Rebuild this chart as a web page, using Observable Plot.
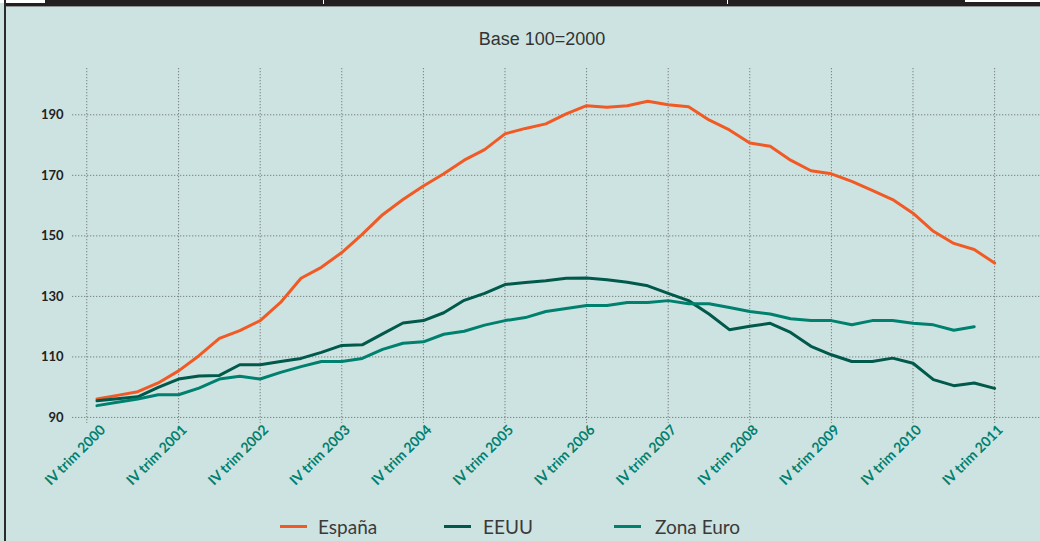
<!DOCTYPE html>
<html>
<head>
<meta charset="utf-8">
<script src="https://cdn.jsdelivr.net/npm/d3@7"></script>
<script src="https://cdn.jsdelivr.net/npm/@observablehq/plot@0.6"></script>
<style>
  html, body { margin: 0; padding: 0; background: #cde3e1; }
  #wrap { position: relative; width: 1040px; height: 541px; background: #cde3e1; overflow: hidden; font-family: Lato, "Noto Sans", sans-serif; }
  .band { position: absolute; }
  #title { position: absolute; top: 30px; left: 442px; width: 200px; text-align: center; font-family: "Liberation Sans", Arial, sans-serif; font-size: 18px; line-height: 18px; color: #333; white-space: nowrap; }
  #chart { position: absolute; top: 55px; left: 0; }
  .leg { position: absolute; top: 515px; height: 22px; display: flex; align-items: center; font-family: Lato, sans-serif; font-size: 19px; color: #3a3a3a; white-space: nowrap; }
  .sw { display: inline-block; width: 27px; height: 3px; margin-right: 11px; }
</style>
</head>
<body>
<div id="wrap">
  <div class="band" style="left:4px;top:0;width:1036px;height:6px;background:#231f20"></div>
  <div class="band" style="left:6px;top:6px;width:1034px;height:1px;background:#8f9493"></div>
  <div class="band" style="left:0;top:0;width:45px;height:3px;background:#ffffff"></div>
  <div class="band" style="left:965px;top:0;width:75px;height:2px;background:#ffffff"></div>
  <div class="band" style="left:323px;top:0;width:1px;height:4px;background:#ffffff"></div>
  <div class="band" style="left:727px;top:0;width:1px;height:4px;background:#ffffff"></div>
  <div class="band" style="left:4px;top:0;width:2px;height:541px;background:#2b2b2b"></div>
  <div id="title"></div>
  <div id="chart"></div>
  <div id="legend"></div>
</div>
<script>
const titleText = "Base 100=2000";

// Quarterly index, IV trim 2000 (0) ... IV trim 2011 (44)
const xTickLabels = ["IV trim 2000","IV trim 2001","IV trim 2002","IV trim 2003","IV trim 2004","IV trim 2005",
                     "IV trim 2006","IV trim 2007","IV trim 2008","IV trim 2009","IV trim 2010","IV trim 2011"];
const xTickIdx = [0,4,8,12,16,20,24,28,32,36,40,44];
const xGrid = [-0.5,4,8,12,16,20,24,28,32,36,40,44];
const yTicks = [90,110,130,150,170,190];

const seriesNames = ["España","EEUU","Zona Euro"];
const seriesColors = ["#f15a24","#00594a","#00806f"];

const espana = [96.1,97.3,98.5,101.4,105.4,110.4,116.1,118.7,122,128,136,139.6,144.5,150.5,157,162,166.5,170.5,175,178.5,
                183.7,185.5,187,190.3,193,192.5,193,194.5,193.3,192.7,188.3,185,180.7,179.6,175,171.5,170.5,168,165,162,
                157.5,151.5,147.5,145.5,141];
const eeuu = [95.5,96.2,96.8,99.9,102.7,103.7,103.9,107.4,107.4,108.5,109.5,111.5,113.8,114,117.6,121.2,122,124.6,128.7,131,
              133.9,134.6,135.2,136,136.1,135.5,134.7,133.5,131,128.6,124.2,119,120.1,121.1,118.1,113.5,110.7,108.5,108.5,109.6,
              107.9,102.5,100.5,101.4,99.6];
const zonaEuro = [93.9,95,96.1,97.5,97.5,99.7,102.7,103.6,102.7,104.9,106.8,108.5,108.5,109.5,112.5,114.5,115,117.5,118.5,120.5,
                  122,123,125,126,127,127,128,128,128.6,127.6,127.6,126.3,125,124.2,122.6,122,122,120.6,122,122,
                  121.1,120.6,118.8,120];

const allSeries = [espana, eeuu, zonaEuro];
const rows = [];
allSeries.forEach((vals, s) => vals.forEach((v, i) => rows.push({serie: seriesNames[s], i, v})));

document.getElementById("title").textContent = titleText;

const gridStyle = {stroke: "#77827f", strokeWidth: 1, strokeDasharray: "1.3,1.7"};

const chart = Plot.plot({
  width: 1040,
  height: 440,
  marginLeft: 72,
  marginRight: 0,
  marginTop: 13,
  marginBottom: 72,
  style: {background: "transparent", fontFamily: "Lato, sans-serif", overflow: "visible"},
  x: {domain: [-1.2, 46.25], axis: null},
  y: {domain: [88, 205.3]},
  color: {domain: seriesNames, range: seriesColors},
  marks: [
    Plot.ruleY(yTicks, gridStyle),
    Plot.ruleX(xGrid, gridStyle),
    Plot.axisY(yTicks, {tickSize: 0, tickPadding: 9, fontSize: 13, fontWeight: "bold", color: "#222", label: null}),
    Plot.text(xTickIdx, {x: d => d, y: () => 88, text: (d, k) => xTickLabels[k], rotate: -45, textAnchor: "end",
      lineAnchor: "middle", dx: 6, dy: 4, fill: "#00806f", fontSize: 14, fontWeight: "bold"}),
    Plot.line(rows, {x: "i", y: "v", z: "serie", stroke: "serie", strokeWidth: 3, strokeLinejoin: "round"})
  ]
});
document.getElementById("chart").appendChild(chart);

const legendPos = [{sw: 280, tx: 318}, {sw: 444, tx: 483}, {sw: 614, tx: 655}];
const legend = document.getElementById("legend");
seriesNames.forEach((name, k) => {
  const item = document.createElement("div");
  item.className = "leg";
  item.style.left = legendPos[k].sw + "px";
  const sw = document.createElement("span");
  sw.className = "sw";
  sw.style.background = seriesColors[k];
  sw.style.marginRight = (legendPos[k].tx - legendPos[k].sw - 27) + "px";
  item.appendChild(sw);
  item.appendChild(document.createTextNode(name));
  legend.appendChild(item);
});
</script>
</body>
</html>
